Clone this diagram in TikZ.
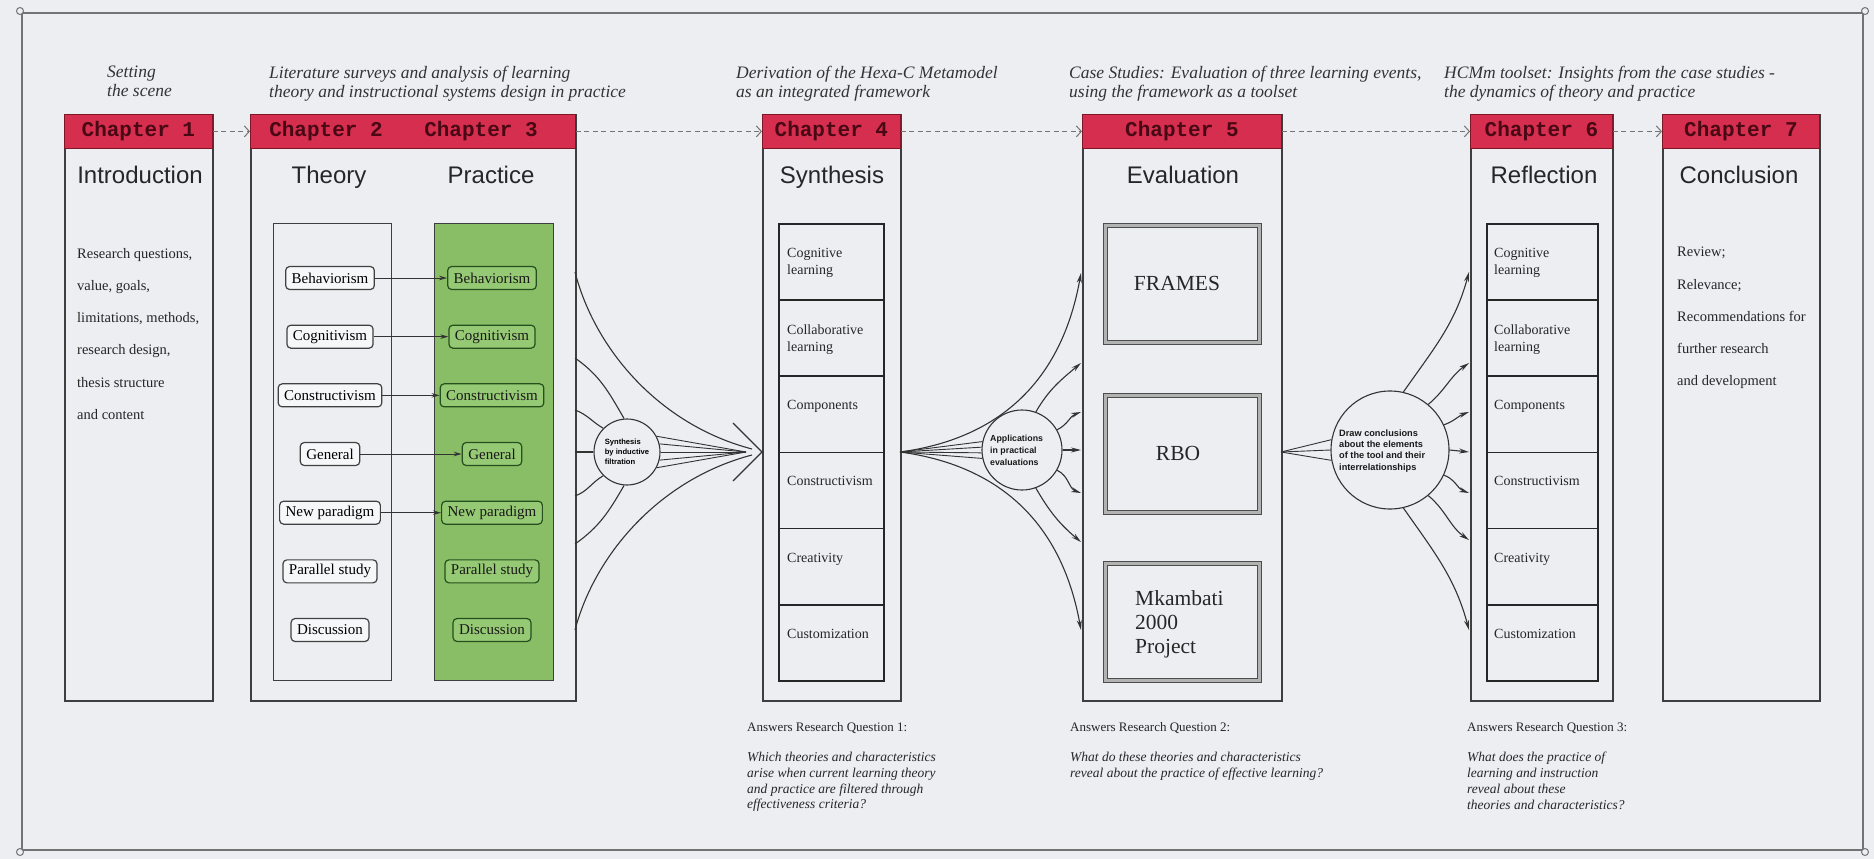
\documentclass[tikz,border=0pt]{standalone}
\usepackage{fontspec}
\setmainfont{Liberation Serif}
\newfontfamily\sansf{Liberation Sans}
\newfontfamily\monof{Liberation Mono}
\usetikzlibrary{arrows.meta,calc}

\definecolor{paper}{RGB}{236,238,242}
\definecolor{ink}{RGB}{62,62,62}
\definecolor{hdrfill}{RGB}{214,46,78}
\definecolor{hdrline}{RGB}{125,22,38}
\definecolor{hdrtext}{RGB}{72,8,20}
\definecolor{leaf}{RGB}{138,190,102}
\definecolor{leafitem}{RGB}{150,201,116}
\definecolor{leafdark}{RGB}{38,78,30}

\begin{document}
\begin{tikzpicture}[x=1pt,y=-1pt,
  chapbox/.style={draw=ink,line width=1.5pt,inner sep=0pt,anchor=north west,minimum height=586pt},
  header/.style={draw=hdrline,fill=hdrfill,line width=0.8pt,inner sep=0pt,anchor=north west,minimum height=34pt,
    text=hdrtext,font=\monof\bfseries\fontsize{21}{24}\selectfont},
  hdrlabel/.style={text=hdrtext,font=\monof\bfseries\fontsize{21}{24}\selectfont,inner sep=0pt},
  title/.style={font=\sansf\fontsize{24}{28}\selectfont,text=black!85,inner sep=0pt,anchor=base},
  topnote/.style={font=\itshape\fontsize{17.5}{19}\selectfont,align=left,anchor=north west,inner sep=0pt,text=black!80},
  bodytext/.style={font=\fontsize{14.5}{32.2}\selectfont,align=left,anchor=north west,inner sep=0pt,text=black!85},
  colbox/.style={draw=ink,line width=1.3pt,inner sep=0pt,anchor=north west,minimum width=118pt,minimum height=457pt},
  titem/.style={draw=black!75,fill=white!55!paper,line width=1.2pt,rounded corners=4pt,inner xsep=6pt,inner ysep=0pt,
    minimum height=23pt,font=\fontsize{15}{17}\selectfont},
  pitem/.style={titem,draw=leafdark,fill=leafitem,text=black!90},
  tparrow/.style={draw=black!80,line width=1pt,-{Stealth[length=8pt,width=4.5pt]}},
  cell/.style={draw=black!85,line width=1.8pt,inner sep=0pt,anchor=north west,minimum height=76.17pt},
  celltext/.style={font=\fontsize{14}{17}\selectfont,align=left,anchor=north west,inner sep=0pt,text=black!85},
  casebox/.style={draw=black!70,line width=1pt,double=gray!60,double distance=2.6pt,inner sep=0pt,anchor=north west,
    minimum width=154pt,minimum height=117pt},
  casetext/.style={font=\fontsize{21.5}{24}\selectfont,align=left,inner sep=0pt,text=black!85},
  hub/.style={circle,draw=black!80,line width=1.1pt,fill=paper,inner sep=0pt,align=left,font=\sansf\bfseries},
  hubtext/.style={align=left,inner sep=0pt,anchor=west,text=black!90},
  fan/.style={draw=black!80,line width=1.1pt},
  fanarrow/.style={fan,-{Stealth[length=10pt,width=5pt]}},
  dasharrow/.style={draw=black!55,line width=1pt,dash pattern=on 5pt off 3.5pt,-{Straight Barb[length=5pt,width=11pt]}},
  qhead/.style={font=\fontsize{13}{15.8}\selectfont,anchor=base west,inner sep=0pt,text=black!85},
  qtext/.style={font=\itshape\fontsize{13.5}{15.8}\selectfont,align=left,anchor=north west,inner sep=0pt,text=black!85},
]
% page and frame
\fill[paper] (0,0) rectangle (1874,859);
\draw[black!55,line width=1.2pt] (22,13) rectangle (1863,850);
\foreach \p in {(20,11),(1865,11),(20,852),(1865,852)}
  \draw[black!55,line width=1pt,fill=paper] \p circle (3.5pt);

% chapter columns
\node[chapbox,minimum width=148pt] (ch1) at (64,114) {};
\node[chapbox,minimum width=325pt] (ch23) at (250,114) {};
\node[chapbox,minimum width=138pt] (ch4) at (762,114) {};
\node[chapbox,minimum width=199pt] (ch5) at (1082,114) {};
\node[chapbox,minimum width=142pt] (ch6) at (1470,114) {};
\node[chapbox,minimum width=157pt] (ch7) at (1662,114) {};

% red headers
\node[header,minimum width=148pt] (h1) at (64,114) {Chapter 1};
\node[header,minimum width=325pt] (h23) at (250,114) {};
\node[hdrlabel] (h2lab) at (326,131) {Chapter 2};
\node[hdrlabel] (h3lab) at (481,131) {Chapter 3};
\node[header,minimum width=138pt] (h4) at (762,114) {Chapter 4};
\node[header,minimum width=199pt] (h5) at (1082,114) {Chapter 5};
\node[header,minimum width=142pt] (h6) at (1470,114) {Chapter 6};
\node[header,minimum width=157pt] (h7) at (1662,114) {Chapter 7};

% dashed flow between chapters
\draw[dasharrow] (h1.east) -- (h23.west);
\draw[dasharrow] (h23.east) -- (h4.west);
\draw[dasharrow] (h4.east) -- (h5.west);
\draw[dasharrow] (h5.east) -- (h6.west);
\draw[dasharrow] (h6.east) -- (h7.west);

% notes above the chapters
\node[topnote] (n1) at (107,66) {Setting\\the scene};
\node[topnote] (n23) at (269,66) {Literature surveys and analysis of learning\\theory and instructional systems design in practice};
\node[topnote] (n4) at (736,66) {Derivation of the Hexa-C Metamodel\\as an integrated framework};
\node[topnote] (n5) at (1069,66) {Case Studies: Evaluation of three learning events,\\using the framework as a toolset};
\node[topnote] (n6) at (1444,66) {HCMm toolset: Insights from the case studies -\\the dynamics of theory and practice};

% column titles
\node[title] (t1) at (140,183) {Introduction};
\node[title] (t2) at (329,183) {Theory};
\node[title] (t3) at (491,183) {Practice};
\node[title] (t4) at (832,183) {Synthesis};
\node[title] (t5) at (1183,183) {Evaluation};
\node[title] (t6) at (1544,183) {Reflection};
\node[title] (t7) at (1739,183) {Conclusion};

% chapter 1 and 7 text
\node[bodytext] (b1) at (77,248) {Research questions,\\value, goals,\\limitations, methods,\\research design,\\thesis structure\\and content};
\node[bodytext] (b7) at (1677,247) {Review;\\Relevance;\\Recommendations for\\further research\\and development};

% theory and practice columns
\node[colbox] (thcol) at (273,223) {};
\node[colbox,fill=leaf,minimum width=119pt] (prcol) at (434,223) {};
\foreach \i/\lab in {1/Behaviorism,2/Cognitivism,3/Constructivism,4/General,5/New paradigm,6/Parallel study,7/Discussion}{
  \node[titem] (th\i) at (330,{278+58.67*(\i-1)}) {\lab};
  \node[pitem] (pr\i) at (492,{278+58.67*(\i-1)}) {\lab};
}
\foreach \i in {1,...,5}
  \draw[tparrow] (th\i) -- (pr\i);

% Hexa-C lists in chapters 4 and 6
\foreach \i/\txt in {0/{Cognitive\\learning},1/{Collaborative\\learning},2/Components,3/Constructivism,4/Creativity,5/Customization}{
  \node[cell,minimum width=105pt] (s\i) at (778,{223+76.17*\i}) {};
  \node[celltext] at ($(s\i.north west)+(9,25)$) {\txt};
  \node[cell,minimum width=111pt] (r\i) at (1486,{223+76.17*\i}) {};
  \node[celltext] at ($(r\i.north west)+(8,25)$) {\txt};
}

% case studies in chapter 5
\node[casebox] (fr) at (1105,225) {};
\node[casetext] at (1177,283) {FRAMES};
\node[casebox] (rbo) at (1105,395) {};
\node[casetext] at (1178,453) {RBO};
\node[casebox] (mk) at (1105,563) {};
\node[casetext,anchor=north west] at (1135,590) {Mkambati\\2000\\Project};

% chapter 2/3 -> chapter 4: synthesis
\node[hub,minimum size=66pt,font=\sansf\bfseries\fontsize{7.6}{10}\selectfont] (S) at (627,452) {Synthesis\\by inductive\\filtration};
\coordinate (a1) at (575,272);
\coordinate (a2) at (575,358);
\coordinate (a3) at (575,410);
\coordinate (a4) at (575,452);
\coordinate (a5) at (575,496);
\coordinate (a6) at (575,544);
\coordinate (a7) at (575,630);
\coordinate (aT) at (762,452);
\coordinate (aL) at (733,423);
\coordinate (aR) at (733,481);
\coordinate (aM) at (746,452);
\coordinate (aU) at (752,449);
\coordinate (aD) at (752,455);
\draw[fan] (a1) .. controls (595,350) and (660,425) .. (aU);
\draw[fan] (a7) .. controls (595,554) and (660,479) .. (aD);
\draw[fan] (a2) to[out=-35,in=120] (S.95);
\draw[fan] (a3) to[out=-20,in=150] (S.135);
\draw[fan] (a4) -- (S.180);
\draw[fan] (a5) to[out=20,in=-150] (S.225);
\draw[fan] (a6) to[out=35,in=-120] (S.265);
\foreach \a in {28,14,0,-14,-28}
  \draw[fan,line width=0.9pt] (S.\a) -- (aM);
\draw[fan,line join=miter] (aL) -- (aT) -- (aR);

% chapter 4 -> chapter 5: application
\node[hub,minimum size=80pt] (A) at (1022,450) {};
\node[hubtext,font=\sansf\bfseries\fontsize{8.8}{12}\selectfont] (Atext) at (990,450) {Applications\\in practical\\evaluations};
\coordinate (e0) at (900,452);
\coordinate (e1) at (1081,273);
\coordinate (e2) at (1081,363);
\coordinate (e3) at (1081,412);
\coordinate (e4) at (1081,450);
\coordinate (e5) at (1081,493);
\coordinate (e6) at (1081,542);
\coordinate (e7) at (1081,630);
\draw[fanarrow] (e0) .. controls (990,440) and (1060,390) .. (e1);
\draw[fanarrow] (e0) .. controls (990,464) and (1060,514) .. (e7);
\foreach \a in {168,176,184,192}
  \draw[fan,line width=0.9pt] (e0) -- (A.\a);
\draw[fanarrow] (A.70) to[out=60,in=-140] (e2);
\draw[fanarrow] (A.30) to[out=25,in=-160] (e3);
\draw[fanarrow] (A.0) -- (e4);
\draw[fanarrow] (A.-30) to[out=-25,in=160] (e5);
\draw[fanarrow] (A.-70) to[out=-60,in=140] (e6);

% chapter 5 -> chapter 6: conclusions
\node[hub,minimum size=118pt] (B) at (1390,450) {};
\node[hubtext,font=\sansf\bfseries\fontsize{9.2}{11.2}\selectfont] (Btext) at (1339,451) {Draw conclusions\\about the elements\\of the tool and their\\interrelationships};
\coordinate (g0) at (1281,452);
\coordinate (g1) at (1469,272);
\coordinate (g2) at (1469,363);
\coordinate (g3) at (1469,412);
\coordinate (g4) at (1469,452);
\coordinate (g5) at (1469,493);
\coordinate (g6) at (1469,540);
\coordinate (g7) at (1469,630);
\foreach \a in {170,180,190}
  \draw[fan,line width=0.9pt] (g0) -- (B.\a);
\draw[fanarrow] (B.77) to[out=55,in=-105] (g1);
\draw[fanarrow] (B.50) to[out=40,in=-145] (g2);
\draw[fanarrow] (B.25) to[out=20,in=-160] (g3);
\draw[fanarrow] (B.0) -- (g4);
\draw[fanarrow] (B.-25) to[out=-20,in=160] (g5);
\draw[fanarrow] (B.-50) to[out=-40,in=145] (g6);
\draw[fanarrow] (B.-77) to[out=-55,in=105] (g7);

% research questions
\node[qhead] (q1h) at (747,731) {Answers Research Question 1:};
\node[qtext] (q1) at (747,752) {Which theories and characteristics\\arise when current learning theory\\and practice are filtered through\\effectiveness criteria?};
\node[qhead] (q2h) at (1070,731) {Answers Research Question 2:};
\node[qtext] (q2) at (1070,752) {What do these theories and characteristics\\reveal about the practice of effective learning?};
\node[qhead] (q3h) at (1467,731) {Answers Research Question 3:};
\node[qtext] (q3) at (1467,752) {What does the practice of\\learning and instruction\\reveal about these\\theories and characteristics?};
\end{tikzpicture}
\end{document}
